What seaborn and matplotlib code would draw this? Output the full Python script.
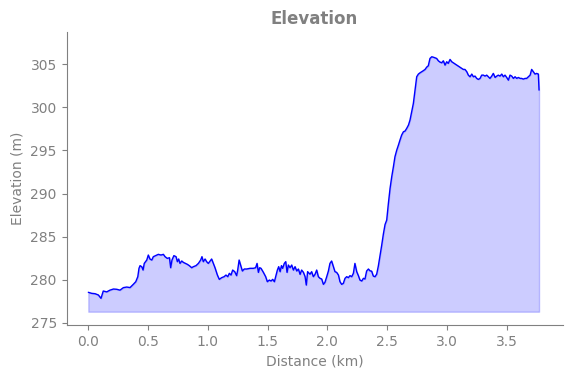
import matplotlib
matplotlib.use("Agg")
import matplotlib.pyplot as plt
import seaborn as sns

distance_km = [
    0.000, 0.028, 0.056, 0.084, 0.106, 0.125, 0.154, 0.181, 0.210, 0.238,
    0.265, 0.293, 0.321, 0.349, 0.376, 0.397, 0.414, 0.424, 0.433, 0.447,
    0.458, 0.468, 0.489, 0.502, 0.516, 0.531, 0.544, 0.563, 0.586, 0.608,
    0.628, 0.642, 0.661, 0.679, 0.689, 0.700, 0.716, 0.734, 0.745, 0.756,
    0.767, 0.782, 0.795, 0.812, 0.829, 0.845, 0.865, 0.879, 0.901, 0.921,
    0.940, 0.951, 0.962, 0.977, 0.990, 1.004, 1.019, 1.032, 1.046, 1.060,
    1.080, 1.096, 1.116, 1.136, 1.152, 1.167, 1.180, 1.194, 1.208, 1.225,
    1.241, 1.250, 1.262, 1.278, 1.289, 1.305, 1.325, 1.353, 1.381, 1.400,
    1.412, 1.423, 1.434, 1.445, 1.465, 1.484, 1.498, 1.515, 1.529, 1.543,
    1.557, 1.571, 1.582, 1.593, 1.605, 1.616, 1.626, 1.640, 1.652, 1.663,
    1.674, 1.688, 1.702, 1.716, 1.730, 1.744, 1.758, 1.772, 1.785, 1.800,
    1.814, 1.824, 1.835, 1.855, 1.869, 1.883, 1.897, 1.911, 1.925, 1.939,
    1.953, 1.967, 1.980, 1.995, 2.009, 2.022, 2.036, 2.051, 2.064, 2.078,
    2.093, 2.106, 2.120, 2.134, 2.148, 2.162, 2.176, 2.190, 2.204, 2.218,
    2.231, 2.246, 2.260, 2.273, 2.288, 2.302, 2.315, 2.329, 2.344, 2.357,
    2.371, 2.385, 2.399, 2.413, 2.427, 2.441, 2.455, 2.469, 2.483, 2.497,
    2.511, 2.525, 2.539, 2.553, 2.566, 2.581, 2.595, 2.608, 2.622, 2.637,
    2.650, 2.664, 2.679, 2.692, 2.706, 2.720, 2.734, 2.748, 2.762, 2.776,
    2.790, 2.803, 2.818, 2.832, 2.845, 2.859, 2.874, 2.893, 2.915, 2.929,
    2.943, 2.957, 2.971, 2.985, 2.999, 3.012, 3.027, 3.041, 3.054, 3.069,
    3.083, 3.096, 3.111, 3.125, 3.138, 3.152, 3.167, 3.180, 3.194, 3.209,
    3.222, 3.236, 3.250, 3.264, 3.278, 3.292, 3.306, 3.320, 3.334, 3.347,
    3.361, 3.376, 3.389, 3.404, 3.418, 3.431, 3.445, 3.460, 3.473, 3.487,
    3.501, 3.515, 3.529, 3.543, 3.557, 3.571, 3.585, 3.599, 3.613, 3.626,
    3.640, 3.655, 3.668, 3.682, 3.697, 3.710, 3.724, 3.738, 3.752, 3.766,
    3.772,
]

elevation_m = [
    278.55, 278.43, 278.39, 278.24, 277.85, 278.70, 278.60, 278.80, 278.93, 278.90,
    278.80, 279.09, 279.16, 279.10, 279.47, 279.78, 280.36, 281.33, 281.64, 281.52,
    281.13, 281.90, 282.29, 282.87, 282.40, 282.29, 282.68, 282.80, 282.95, 282.87,
    282.95, 282.68, 282.48, 282.56, 281.40, 282.29, 282.80, 282.68, 282.10, 282.41,
    281.90, 282.18, 282.02, 281.90, 281.79, 281.64, 281.40, 281.52, 281.64, 281.90,
    282.29, 282.68, 282.10, 282.41, 282.10, 281.90, 282.18, 282.41, 281.90, 281.40,
    280.55, 280.05, 280.25, 280.36, 280.55, 280.36, 280.75, 280.55, 281.13, 280.94,
    280.48, 281.13, 282.29, 281.52, 281.02, 281.25, 281.25, 281.33, 281.33, 281.40,
    281.90, 280.86, 281.40, 281.33, 280.86, 280.36, 279.78, 279.97, 279.86, 280.05,
    279.78, 280.55, 281.13, 281.52, 280.94, 281.64, 281.33, 281.90, 282.10, 280.86,
    281.71, 281.40, 281.71, 281.13, 281.52, 281.02, 281.25, 280.63, 281.13, 280.86,
    280.36, 279.39, 280.94, 280.65, 280.94, 280.36, 280.63, 281.13, 280.36, 280.17,
    280.09, 279.47, 279.70, 280.36, 281.02, 281.90, 282.18, 281.52, 280.94, 280.86,
    280.55, 279.78, 279.47, 279.59, 280.17, 280.36, 280.25, 280.48, 280.36, 280.75,
    281.90, 280.94, 280.48, 279.97, 279.86, 280.17, 280.09, 281.02, 281.25, 281.04,
    281.00, 280.43, 280.36, 280.65, 281.60, 282.80, 284.00, 285.30, 286.40, 286.92,
    288.85, 290.59, 291.94, 293.10, 294.26, 295.03, 295.61, 296.19, 296.77, 297.16,
    297.23, 297.54, 297.93, 298.51, 299.47, 300.44, 301.98, 303.53, 303.84, 303.99,
    304.11, 304.23, 304.38, 304.65, 304.80, 305.65, 305.85, 305.77, 305.65, 305.38,
    305.23, 305.15, 305.38, 304.88, 305.27, 305.08, 305.54, 305.27, 305.15, 305.00,
    304.88, 304.77, 304.61, 304.50, 304.38, 304.38, 304.11, 303.72, 303.53, 303.84,
    303.53, 303.61, 303.34, 303.22, 303.34, 303.72, 303.72, 303.61, 303.72, 303.53,
    303.34, 303.61, 303.92, 303.45, 303.61, 303.72, 303.61, 303.84, 303.53, 303.72,
    303.45, 303.14, 303.72, 303.61, 303.34, 303.53, 303.34, 303.45, 303.34, 303.34,
    303.26, 303.34, 303.34, 303.53, 303.72, 304.38, 304.11, 303.84, 303.92, 303.84,
    301.98,
]

fill_base_m = 276.3

sns.set_style("ticks")
plt.rcParams['font.family'] = ['DejaVu Sans']

fig = plt.figure(figsize=(5.71, 3.78), dpi=100)
ax = fig.add_axes([0.1165, 0.1402, 0.8690, 0.775])

sns.lineplot(x=distance_km, y=elevation_m, color='blue', linewidth=1.0,
             estimator=None, sort=False, ax=ax)
ax.fill_between(distance_km, elevation_m, fill_base_m, color='blue', alpha=0.2, linewidth=1)

ax.set_xlim(-0.1824, 3.970)
ax.set_ylim(274.76, 308.71)
ax.set_xticks([0.0, 0.5, 1.0, 1.5, 2.0, 2.5, 3.0, 3.5])
ax.set_yticks([275, 280, 285, 290, 295, 300, 305])

txt = 'gray'
ax.set_title('Elevation', color=txt, fontsize=12, fontweight='bold')
ax.set_xlabel('Distance (km)', color=txt, fontsize=10)
ax.set_ylabel('Elevation (m)', color=txt, fontsize=10)
ax.tick_params(colors=txt, labelcolor=txt, labelsize=10, length=3.5, width=0.8)
sns.despine(ax=ax)
for s in ['left', 'bottom']:
    ax.spines[s].set_color(txt)
    ax.spines[s].set_linewidth(0.8)

fig.savefig('out.png', dpi=100)
